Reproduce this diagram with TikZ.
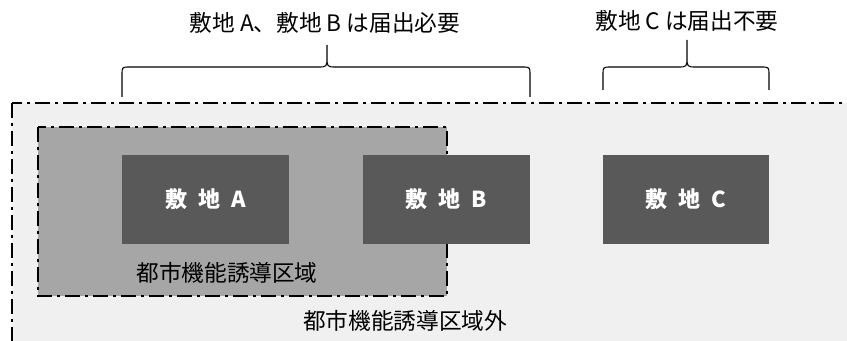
\documentclass[tikz,border=0pt]{standalone}
\usepackage{fontspec}
\setmainfont{Noto Sans CJK JP}
\begin{document}
\begin{tikzpicture}[x=0.75pt,y=-0.75pt,
  zone/.style={draw=black,line width=1.5pt,dash pattern=on 11pt off 4pt on 2pt off 4pt},
  site/.style={fill=sitegray,draw=none,minimum width=125pt,minimum height=67pt,inner sep=0pt,
    text=white,font=\fontsize{16.5}{18}\selectfont\bfseries},
  lbl/.style={inner sep=0pt,font=\fontsize{17}{19}\selectfont}]
\definecolor{sitegray}{HTML}{595959}
\definecolor{innergray}{HTML}{A6A6A6}
\definecolor{outergray}{HTML}{F0F0F0}
\useasboundingbox (0,0) rectangle (847,341);
\begin{scope}
\clip (0,0) rectangle (847,341);
\draw[zone,fill=outergray] (12,103) rectangle (870,370);
\end{scope}
\draw[zone,fill=innergray] (38,127) rectangle (447,296);
\node[site] (A) at (205.5,199.5) {敷\hspace{0.5em}地\hspace{0.5em}A};
\node[site] (B) at (446.5,199.5) {敷\hspace{0.5em}地\hspace{0.5em}B};
\node[site] (C) at (686,199.5) {敷\hspace{0.5em}地\hspace{0.5em}C};
\node[lbl] (inlbl) at (227,273) {都市機能誘導区域};
\node[lbl] (outlbl) at (405,321) {都市機能誘導区域外};
\node[lbl] (lblAB) at (325,23) {敷地 A、敷地 B は届出必要};
\node[lbl] (lblC) at (687,21) {敷地 C は届出不要};
% braces
\coordinate (ab1) at (122,97);
\coordinate (ab2) at (530,97);
\coordinate (abt) at (327,45);
\coordinate (c1) at (603,90);
\coordinate (c2) at (769,90);
\coordinate (ct) at (687,40);
\draw[line width=0.8pt]
  (ab1) -- (122,75) .. controls (122,67) .. (130,67) -- (318,67)
  .. controls (327,67) .. (327,56) -- (abt)
  (abt) -- (327,56) .. controls (327,67) .. (336,67) -- (522,67)
  .. controls (530,67) .. (530,75) -- (ab2);
\draw[line width=0.8pt]
  (c1) -- (603,75) .. controls (603,67) .. (611,67) -- (678,67)
  .. controls (687,67) .. (687,56) -- (ct)
  (ct) -- (687,56) .. controls (687,67) .. (696,67) -- (761,67)
  .. controls (769,67) .. (769,75) -- (c2);
\end{tikzpicture}
\end{document}
